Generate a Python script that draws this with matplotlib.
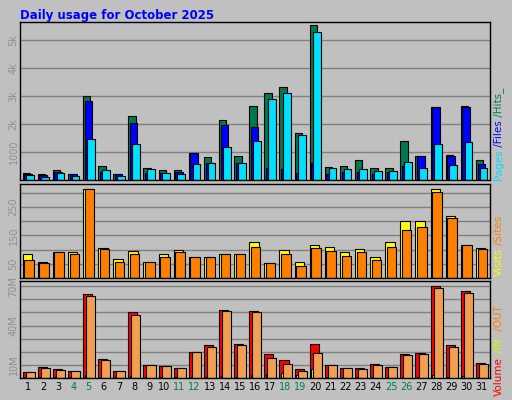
import numpy as np
import matplotlib.pyplot as plt

days = list(range(1, 32))
weekend = [4, 5, 11, 12, 18, 19, 25, 26]

hits = [260, 200, 370, 220, 3000, 490, 220, 2300, 440, 340, 340, 950, 820, 2160, 850, 2630,
        3110, 3330, 1680, 5560, 480, 490, 700, 440, 440, 1390, 850, 2600, 910, 2630, 700]
files = [220, 180, 270, 210, 2820, 290, 200, 2050, 260, 240, 300, 950, 600, 1980, 620, 1880,
         440, 410, 250, 620, 230, 290, 290, 230, 270, 490, 850, 2600, 850, 2600, 590]
pages = [180, 110, 260, 150, 1460, 370, 150, 1280, 400, 260, 230, 590, 620, 1170, 620, 1390,
         2900, 3110, 1610, 5280, 440, 400, 400, 330, 330, 660, 440, 1280, 520, 1350, 440]

visits = [83, 57, 90, 90, 312, 107, 67, 96, 57, 85, 99, 75, 75, 83, 85, 125,
          53, 99, 57, 117, 110, 90, 103, 75, 125, 199, 199, 312, 217, 115, 107]
sites = [64, 53, 90, 83, 312, 103, 57, 83, 57, 75, 92, 75, 75, 83, 83, 110,
         53, 83, 43, 107, 96, 78, 90, 64, 110, 170, 178, 302, 209, 117, 103]

vol = [4.4, 8.3, 6.8, 5.2, 64, 14.6, 5.2, 50, 10, 9.1, 7.6, 20, 24.8, 52, 25.6, 51.4,
       18.5, 13.8, 6.8, 25.6, 10, 7.6, 7.6, 10.7, 8.3, 18.5, 19.3, 70.2, 24.8, 66.3, 11.5]
vol_in = [0.4, 0.4, 0.4, 0.4, 2.0, 0.5, 0.4, 1.5, 0.4, 0.4, 0.4, 0.5, 0.5, 1.5, 0.5, 2.0,
          2.9, 4.0, 2.0, 6.8, 0.4, 0.4, 0.4, 0.4, 0.4, 0.5, 0.5, 2.0, 0.5, 1.5, 0.4]
vol_out = [4.4, 7.6, 6.0, 5.2, 62.4, 13.8, 5.2, 48.3, 10, 9.1, 7.6, 20, 24, 51.4, 24.8, 50,
           15.4, 10.7, 5.2, 19.3, 10, 7.6, 6.8, 10, 8.3, 17.8, 18.5, 68.7, 24, 64.8, 10.7]

BG = '#c0c0c0'
x = np.array(days)

fig = plt.figure(figsize=(5.12, 4.0), dpi=100, facecolor=BG)
fig.text(20 / 512, 1 - 15 / 400, 'Daily usage for October 2025', color='#0000ff',
         fontsize=8.5, fontweight='bold', va='center')

def mkax(top, bottom):
    ax = fig.add_axes([20 / 512, 1 - bottom / 400, 470 / 512, (bottom - top) / 400])
    ax.set_facecolor(BG)
    ax.set_xlim(0.45, 31.55)
    ax.set_xticks([])
    for s in ax.spines.values():
        s.set_color('black')
        s.set_linewidth(1)
    ax.grid(axis='y', color='#808080', linewidth=1)
    ax.set_axisbelow(True)
    ax.tick_params(axis='y', length=0, labelsize=7, labelcolor='#909090', pad=1)
    return ax

kw = dict(edgecolor='black', linewidth=0.8, align='edge')

ax1 = mkax(22, 180)
ax1.bar(x - 0.38, hits, 0.49, color='#007850', **kw)
ax1.bar(x - 0.27, files, 0.49, color='#0000ff', **kw)
ax1.bar(x - 0.13, pages, 0.51, color='#00e0ff', **kw)
ax1.set_ylim(0, 5650)
ax1.set_yticks([1000, 2000, 3000, 4000, 5000])
ax1.set_yticklabels(['1000', '2k', '3k', '4k', '5k'], rotation=90, va='center')

ax2 = mkax(184, 278)
ax2.bar(x - 0.38, visits, 0.62, color='#ffff00', **kw)
ax2.bar(x - 0.27, sites, 0.62, color='#ff8000', **kw)
ax2.set_ylim(0, 330)
ax2.set_yticks([50, 100, 150, 200, 250, 300])
ax2.set_yticklabels(['50', '', '150', '', '250', ''], rotation=90, va='center')

ax3 = mkax(281, 378)
ax3.bar(x - 0.38, vol, 0.6, color='#ff0000', **kw)
ax3.bar(x - 0.27, vol_in, 0.13, color='#ffff00', **kw)
ax3.bar(x - 0.18, vol_out, 0.6, color='#f0a050', **kw)
ax3.set_ylim(0, 74)
ax3.set_yticks(range(10, 71, 10))
ax3.set_yticklabels(['10M', '', '', '40M', '', '', '70M'], rotation=90, va='center')

# day labels
for d in days:
    xf = (20 + 470 * (d - 0.45) / 31.1) / 512
    fig.text(xf, 1 - 387 / 400, str(d), ha='center', va='center', fontsize=7,
             color='#008040' if d in weekend else 'black')

# right side labels, stacked bottom to top
def vlabel(parts, xpix, ypix_bottom):
    y = ypix_bottom
    for txt, col, h in parts:
        fig.text(xpix / 512, 1 - y / 400, txt, rotation=90, color=col, fontsize=7.5,
                 ha='center', va='bottom')
        y -= h

vlabel([('Pages', '#00e0ff', 30), (' /Files', '#0000ff', 30), (' /Hits_', '#007850', 35)], 499, 180)
vlabel([('Visits', '#ffff00', 31), ('/Sites', '#ff8000', 30)], 499, 276)
vlabel([('Volume', '#ff0000', 40), (' /IN', '#c0ff00', 22), (' /OUT', '#ff8000', 30)], 499, 396)

fig.savefig('out.png', dpi=100, facecolor=BG)
